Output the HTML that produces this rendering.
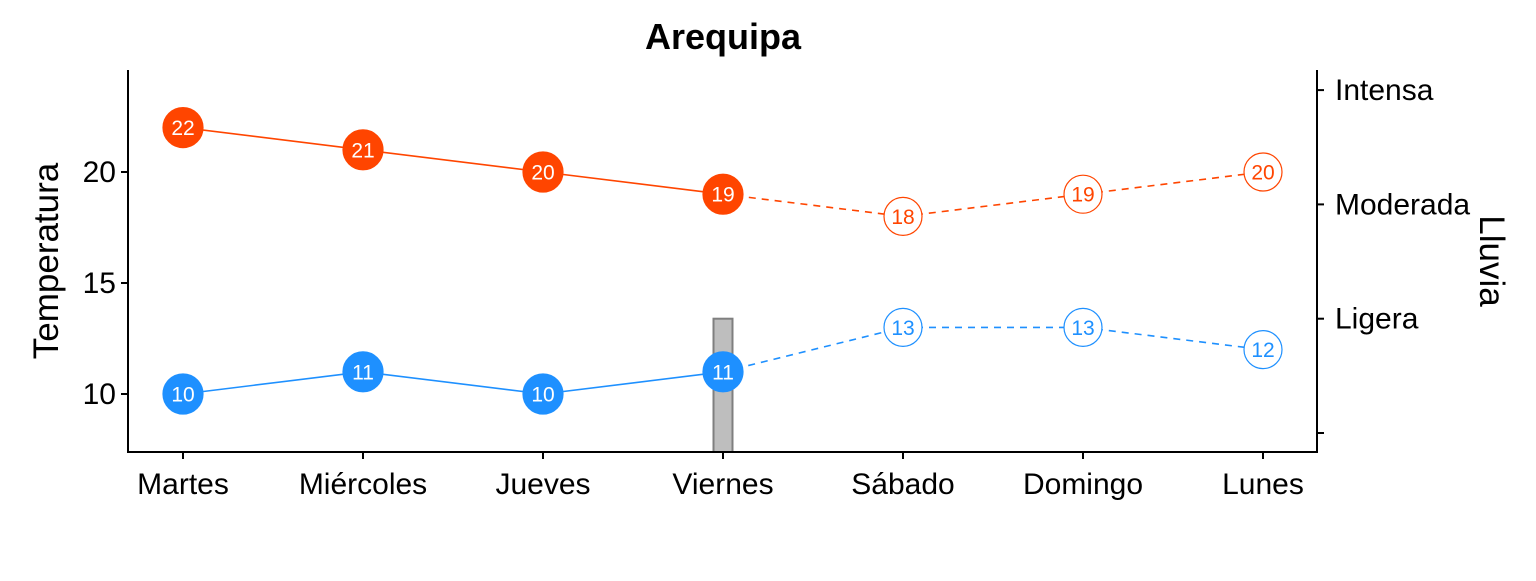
<!DOCTYPE html>
<html><head><meta charset="utf-8"><style>
body{margin:0;background:#fff;}
svg text{font-family:"Liberation Sans",Arial,sans-serif;}
</style></head><body>
<svg id="chart" width="1536" height="576" xmlns="http://www.w3.org/2000/svg">
<rect width="1536" height="576" fill="#fff"/>
<text x="723" y="49" text-anchor="middle" font-size="36" font-weight="bold">Arequipa</text>
<g id="bars"></g><g id="lines"></g><g id="axes"></g>
</svg>
<script>
const days = ["Martes","Miércoles","Jueves","Viernes","Sábado","Domingo","Lunes"];
const maxTemp = [22,21,20,19,18,19,20];
const minTemp = [10,11,10,11,13,13,12];
const rain = [0,0,0,1,0,0,0];
const observedCount = 4;
const tempTicks = [10,15,20];
const rainLabels = ["","Ligera","Moderada","Intensa"];

const NS="http://www.w3.org/2000/svg";
const svg=document.getElementById('chart');
const L=128,R=1317,T=70,B=452;
const x=i=>183+i*180;
const y=t=>394-(t-10)*22.2;
const yr=v=>433-v*114.3;
function mk(tag,attrs,parent){const e=document.createElementNS(NS,tag);for(const k in attrs)e.setAttribute(k,attrs[k]);parent.appendChild(e);return e;}
const gb=document.getElementById('bars'),gl=document.getElementById('lines'),ga=document.getElementById('axes');

rain.forEach((v,i)=>{if(v>0){
 const r=mk('rect',{x:x(i)-9.5,y:yr(v),width:19,height:B-yr(v),fill:'#bebebe',stroke:'#7f7f7f','stroke-width':2},gb);
 
 
}});

function series(vals,color,name){
 for(let i=0;i<vals.length-1;i++){
  const dashed=i>=observedCount-1;
  const ln=mk('line',{x1:x(i),y1:y(vals[i]),x2:x(i+1),y2:y(vals[i+1]),stroke:color,'stroke-width':1.6},gl);
  if(dashed)ln.setAttribute('stroke-dasharray','7,6');
  
  
 }
 vals.forEach((v,i)=>{
  const filled=i<observedCount;
  const c=mk('circle',{cx:x(i),cy:y(v),r:filled?20:19,fill:filled?color:'#fff',stroke:color,'stroke-width':1.2},gl);
  
  
  const t=mk('text',{x:x(i),y:y(v)+7.5,'text-anchor':'middle','font-size':21,fill:filled?'#fff':color},gl);
  t.textContent=v;
  
  
 });
}
series(maxTemp,'#FF4500','max-temp');
series(minTemp,'#1E90FF','min-temp');

let a=mk('path',{d:`M${L},${T}V${B}H${R}V${T}`,fill:'none',stroke:'#000','stroke-width':2},ga);

tempTicks.forEach(t=>{
 mk('line',{x1:L-7,x2:L,y1:y(t),y2:y(t),stroke:'#000','stroke-width':2},ga);
 const tx=mk('text',{x:L-12,y:y(t)+10,'text-anchor':'end','font-size':30,fill:'#000'},ga);
 tx.textContent=t;
 
 
});
rainLabels.forEach((s,v)=>{
 mk('line',{x1:R,x2:R+7,y1:yr(v),y2:yr(v),stroke:'#000','stroke-width':2},ga);
 const tx=mk('text',{x:R+18,y:yr(v)+10,'font-size':30,fill:'#000'},ga);
 tx.textContent=s;
 
 
});
days.forEach((d,i)=>{
 mk('line',{x1:x(i),x2:x(i),y1:B,y2:B+7,stroke:'#000','stroke-width':2},ga);
 const tx=mk('text',{x:x(i),y:B+42,'text-anchor':'middle','font-size':30,fill:'#000'},ga);
 tx.textContent=d;
 
 
});
let yt=mk('text',{x:0,y:0,'text-anchor':'middle','font-size':35,transform:'translate(58,261) rotate(-90)'},ga);
yt.textContent='Temperatura';


let yt2=mk('text',{x:0,y:0,'text-anchor':'middle','font-size':35,transform:'translate(1480,261) rotate(90)'},ga);
yt2.textContent='Lluvia';


</script>
</body></html>
